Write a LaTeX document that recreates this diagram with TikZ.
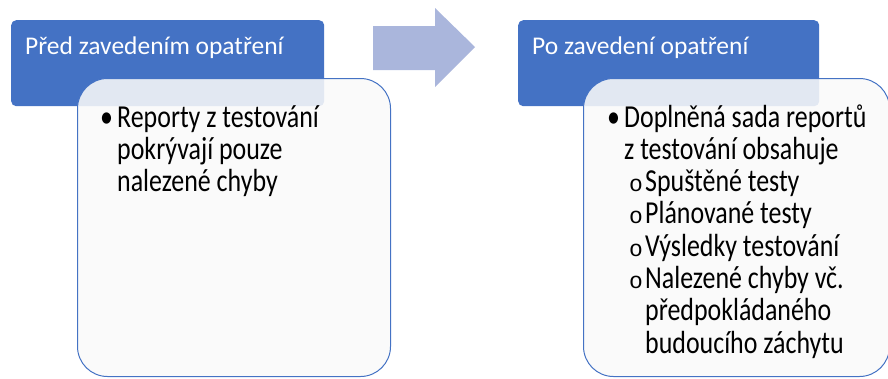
\documentclass[tikz,border=0pt]{standalone}
\usepackage{fontspec}
\setmainfont{Carlito}
\newfontfamily\bodyfont[FakeStretch=0.81]{Carlito}
\newfontfamily\markfont{Liberation Mono}

\definecolor{headblue}{HTML}{4472C4}
\definecolor{arrowblue}{HTML}{AAB6DC}
\definecolor{boxfill}{HTML}{F9F9F9}

% bullet marks
\newcommand{\bul}{\makebox[17pt][l]{\textbullet}}
\newcommand{\cont}{\hspace*{17pt}}
\newcommand{\subbul}{\hspace*{22pt}\makebox[16pt][l]{\markfont\fontsize{23}{23}\selectfont o}}
\newcommand{\subcont}{\hspace*{38pt}}

\begin{document}
\begin{tikzpicture}[
        x=1pt, y=-1pt,
        head/.style={fill=headblue, rounded corners=5pt, minimum width=313pt,
                     minimum height=86pt, inner sep=0pt, anchor=north west},
        headtext/.style={text=white, font=\fontsize{25.5}{30}\selectfont,
                     anchor=base west, inner sep=0pt},
        panel/.style={fill=boxfill, fill opacity=0.88, draw=headblue, line width=1pt,
                      rounded corners=30pt, minimum width=313pt, minimum height=298pt,
                      inner sep=0pt, anchor=north west},
        bodytext/.style={text=black, anchor=base west, inner sep=0pt},
    ]
    \useasboundingbox (0,0) rectangle (888,378);

    % before
    \node[head] (hdA) at (11,20) {};
    \node[headtext] (hdAtxt) at (25,54) {Před zavedením opatření};
    \node[panel] (boxA) at (77,78) {};
    \node[bodytext] (boxAtxt) at (100,127)
        {\parbox[t]{280pt}{\bodyfont\fontsize{32}{32.3}\selectfont
         \bul Reporty z testování\\
         \cont pokrývají pouze\\
         \cont nalezené chyby}};

    % step arrow
    \fill[arrowblue] (373,26) -- (435,26) -- (435,8) -- (475,47)
        -- (435,87) -- (435,70) -- (373,70) -- cycle;

    % after
    \node[head, minimum width=301pt] (hdB) at (518,20) {};
    \node[headtext] (hdBtxt) at (532,54) {Po zavedení opatření};
    \node[panel, minimum width=306pt] (boxB) at (583,78) {};
    \node[bodytext] (boxBtxt) at (607,127)
        {\parbox[t]{280pt}{\bodyfont\fontsize{32}{32.3}\selectfont
         \bul Doplněná sada reportů\\
         \cont z testování obsahuje\\
         \subbul Spuštěné testy\\
         \subbul Plánované testy\\
         \subbul Výsledky testování\\
         \subbul Nalezené chyby vč.\\
         \subcont předpokládaného\\
         \subcont budoucího záchytu}};
\end{tikzpicture}
\end{document}
